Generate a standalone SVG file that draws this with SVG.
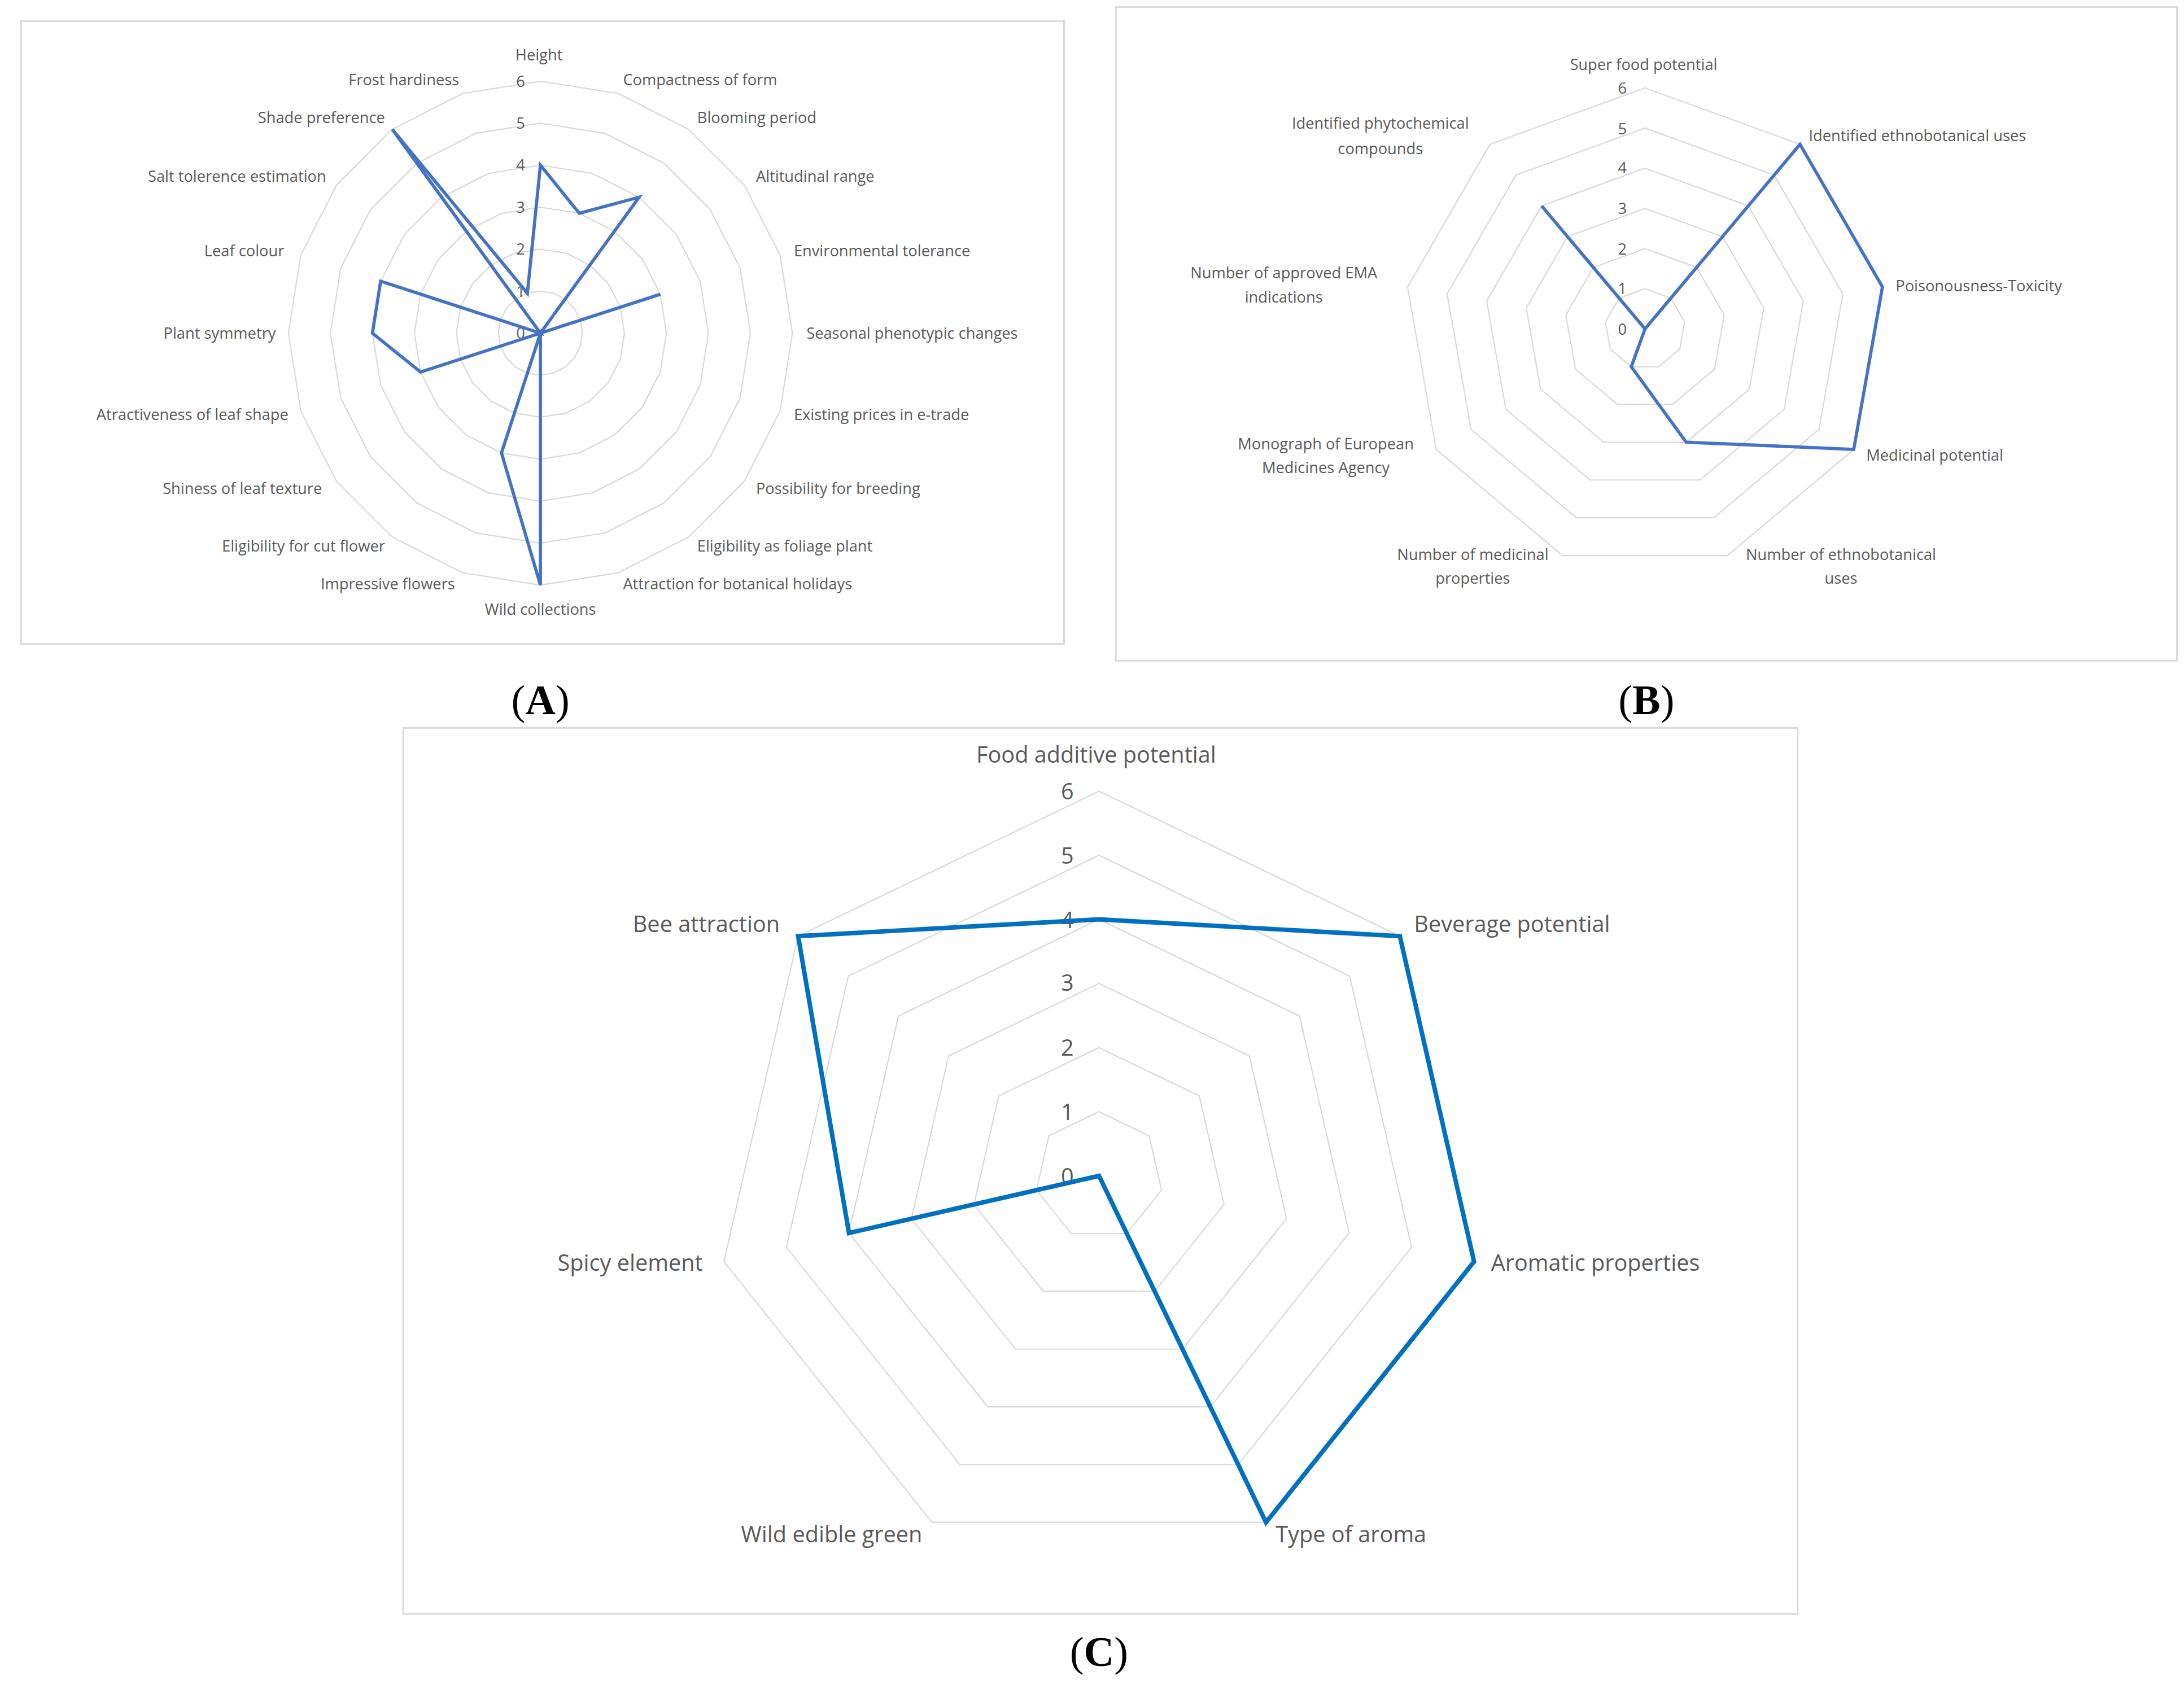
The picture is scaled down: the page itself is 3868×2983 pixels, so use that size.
<svg xmlns="http://www.w3.org/2000/svg" xmlns:xlink="http://www.w3.org/1999/xlink" width="3868" height="2983" viewBox="0 0 3868 2983">
<style>
.ring{fill:none;stroke:#d9d9d9;stroke-width:2.2}
.box{fill:none;stroke:#d9d9d9;stroke-width:1.2}
.a{font-family:"Open Sans","Liberation Sans",sans-serif;font-size:11px;fill:#595959}
.c{font-family:"Open Sans","Liberation Sans",sans-serif;font-size:16px;fill:#595959}
.dA{fill:none;stroke:#4472c4;stroke-width:2.3;stroke-linejoin:miter}
.dC{fill:none;stroke:#0070c0;stroke-width:3.2;stroke-linejoin:miter}
.p{font-family:"Liberation Serif",serif;font-size:30px;fill:#000}
</style>
<defs>
<polygon id="g20" vector-effect="non-scaling-stroke" points="0,-1 .309,-.951 .588,-.809 .809,-.588 .951,-.309 1,0 .951,.309 .809,.588 .588,.809 .309,.951 0,1 -.309,.951 -.588,.809 -.809,.588 -.951,.309 -1,0 -.951,-.309 -.809,-.588 -.588,-.809 -.309,-.951"/>
<polygon id="g9" vector-effect="non-scaling-stroke" points="0,-1 .643,-.766 .985,-.174 .866,.5 .342,.94 -.342,.94 -.866,.5 -.985,-.174 -.643,-.766"/>
<polygon id="g7" vector-effect="non-scaling-stroke" points="0,-1 .782,-.623 .975,.223 .434,.901 -.434,.901 -.975,.223 -.782,-.623"/>
</defs>
<rect width="3868" height="2983" fill="#fff"/>
<g transform="scale(2.4795)">
<g id="chartA">
<rect class="box" x="15" y="15" width="745" height="445"/>
<g class="ring">
<use href="#g20" transform="translate(386,238) scale(30)"/>
<use href="#g20" transform="translate(386,238) scale(60)"/>
<use href="#g20" transform="translate(386,238) scale(90)"/>
<use href="#g20" transform="translate(386,238) scale(120)"/>
<use href="#g20" transform="translate(386,238) scale(150)"/>
<use href="#g20" transform="translate(386,238) scale(180)"/>
</g>
<g class="a" text-anchor="end">
<text x="375" y="62">6</text><text x="375" y="92">5</text><text x="375" y="122">4</text><text x="375" y="152">3</text><text x="375" y="182">2</text><text x="375" y="212">1</text><text x="375" y="242">0</text>
</g>
<g class="a">
<text x="385" y="43" text-anchor="middle">Height</text>
<text x="445" y="61">Compactness of form</text>
<text x="498" y="88">Blooming period</text>
<text x="540" y="130">Altitudinal range</text>
<text x="567" y="183">Environmental tolerance</text>
<text x="576" y="242">Seasonal phenotypic changes</text>
<text x="567" y="300">Existing prices in e-trade</text>
<text x="540" y="353">Possibility for breeding</text>
<text x="498" y="394">Eligibility as foliage plant</text>
<text x="445" y="421">Attraction for botanical holidays</text>
<text x="386" y="439" text-anchor="middle">Wild collections</text>
<text x="325" y="421" text-anchor="end">Impressive flowers</text>
<text x="275" y="394" text-anchor="end">Eligibility for cut flower</text>
<text x="230" y="353" text-anchor="end">Shiness of leaf texture</text>
<text x="206" y="300" text-anchor="end">Atractiveness of leaf shape</text>
<text x="197" y="242" text-anchor="end">Plant symmetry</text>
<text x="203" y="183" text-anchor="end">Leaf colour</text>
<text x="233" y="130" text-anchor="end">Salt tolerence estimation</text>
<text x="275" y="88" text-anchor="end">Shade preference</text>
<text x="328" y="61" text-anchor="end">Frost hardiness</text>
</g>
<polygon class="dA" points="386,118 413.8,152.4 456.5,140.9 386,238 471.6,210.2 386,238 386,418 358.2,323.6 386,238 300.4,265.8 266,238 271.9,200.9 386,238 280.2,92.4 376.7,209.5"/>
<text class="p" x="386" y="510" text-anchor="middle">(<tspan font-weight="bold">A</tspan>)</text>
</g>
<g id="chartB">
<rect class="box" x="797" y="5" width="758" height="467"/>
<g class="ring">
<use href="#g9" transform="translate(1175,235) scale(28.7)"/>
<use href="#g9" transform="translate(1175,235) scale(57.4)"/>
<use href="#g9" transform="translate(1175,235) scale(86.1)"/>
<use href="#g9" transform="translate(1175,235) scale(114.8)"/>
<use href="#g9" transform="translate(1175,235) scale(143.5)"/>
<use href="#g9" transform="translate(1175,235) scale(172.2)"/>
</g>
<g class="a" text-anchor="end">
<text x="1162" y="67">6</text><text x="1162" y="96">5</text><text x="1162" y="124">4</text><text x="1162" y="153">3</text><text x="1162" y="182">2</text><text x="1162" y="210">1</text><text x="1162" y="239">0</text>
</g>
<g class="a" text-anchor="middle">
<text x="1174" y="50">Super food potential</text>
<text x="986" y="92">Identified phytochemical</text><text x="986" y="110">compounds</text>
<text x="1292" y="101" text-anchor="start">Identified ethnobotanical uses</text>
<text x="1354" y="208" text-anchor="start">Poisonousness-Toxicity</text>
<text x="1333" y="329" text-anchor="start">Medicinal potential</text>
<text x="1315" y="400">Number of ethnobotanical</text><text x="1315" y="417">uses</text>
<text x="1052" y="400">Number of medicinal</text><text x="1052" y="417">properties</text>
<text x="947" y="321">Monograph of European</text><text x="947" y="338">Medicines Agency</text>
<text x="917" y="199">Number of approved EMA</text><text x="917" y="216">indications</text>
</g>
<polygon class="dA" points="1175,235 1285.7,103.1 1344.6,205 1324.1,321.1 1204.4,315.9 1165.2,262 1175,235 1101.2,147.1"/>
<text class="p" x="1176" y="510" text-anchor="middle">(<tspan font-weight="bold">B</tspan>)</text>
</g>
<g id="chartC">
<rect class="box" x="288" y="520" width="996" height="633"/>
<g class="ring">
<use href="#g7" transform="translate(785,840) scale(45.8)"/>
<use href="#g7" transform="translate(785,840) scale(91.6)"/>
<use href="#g7" transform="translate(785,840) scale(137.4)"/>
<use href="#g7" transform="translate(785,840) scale(183.2)"/>
<use href="#g7" transform="translate(785,840) scale(229)"/>
<use href="#g7" transform="translate(785,840) scale(274.8)"/>
</g>
<g class="c" text-anchor="end">
<text x="767" y="571">6</text><text x="767" y="617">5</text><text x="767" y="663">4</text><text x="767" y="708">3</text><text x="767" y="754">2</text><text x="767" y="800">1</text><text x="767" y="846">0</text>
</g>
<g class="c">
<text x="783" y="545" text-anchor="middle">Food additive potential</text>
<text x="1010" y="666">Beverage potential</text>
<text x="1065" y="908">Aromatic properties</text>
<text x="965" y="1102" text-anchor="middle">Type of aroma</text>
<text x="594" y="1102" text-anchor="middle">Wild edible green</text>
<text x="502" y="908" text-anchor="end">Spicy element</text>
<text x="557" y="666" text-anchor="end">Bee attraction</text>
</g>
<polygon class="dC" points="785,656.8 999.9,668.8 1052.9,901.3 904.3,1087.6 785,840 606.4,880.9 570.1,668.8"/>
<text class="p" x="785" y="1190" text-anchor="middle">(<tspan font-weight="bold">C</tspan>)</text>
</g>
</g>
</svg>
